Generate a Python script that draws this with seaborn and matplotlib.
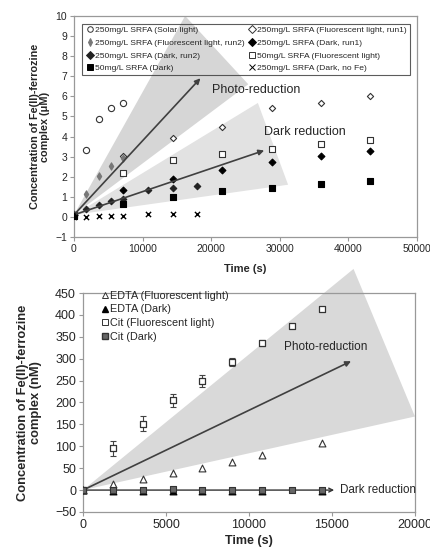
import pandas as pd
import matplotlib.pyplot as plt
import seaborn as sns
from matplotlib.lines import Line2D
from matplotlib.patches import Polygon

# ---- top panel data (time in s, concentration in uM) ----
t_solar = [0, 1800, 3600, 5400, 7200]
y_solar = [0.1, 3.35, 4.87, 5.42, 5.68]
t_fl1 = [0, 7200, 14400, 21600, 28800, 36000, 43200]
y_fl1 = [0.1, 3.05, 3.93, 4.48, 5.42, 5.67, 6.0]
t_fl2 = [0, 1800, 3600, 5400, 7200]
y_fl2 = [0.15, 1.12, 2.03, 2.52, 2.92]
t_dk1 = [0, 7200, 14400, 21600, 28800, 36000, 43200]
y_dk1 = [0.1, 1.35, 1.9, 2.32, 2.72, 3.02, 3.27]
t_dk2 = [0, 1800, 3600, 5400, 7200, 10800, 14400, 18000]
y_dk2 = [0.1, 0.38, 0.6, 0.78, 0.88, 1.32, 1.45, 1.55]
t_50fl = [0, 7200, 14400, 21600, 28800, 36000, 43200]
y_50fl = [0.1, 2.2, 2.85, 3.15, 3.38, 3.62, 3.84]
t_50dk = [0, 7200, 14400, 21600, 28800, 36000, 43200]
y_50dk = [0.05, 0.65, 1.0, 1.27, 1.45, 1.62, 1.78]
t_nofe = [0, 1800, 3600, 5400, 7200, 10800, 14400, 18000]
y_nofe = [0.0, 0.0, 0.02, 0.02, 0.05, 0.12, 0.12, 0.12]

# ---- bottom panel data (time in s, concentration in nM) ----
t_edta = [0, 1800, 3600, 5400, 7200, 9000, 10800, 14400]
y_edta_fl = [0, 13, 25, 38, 51, 65, 79, 107]
y_edta_dk = [0, -1, -1, -2, -1, -1, -1, -1]
t_cit = [0, 1800, 3600, 5400, 7200, 9000, 10800, 12600, 14400]
y_cit_fl = [0, 95, 152, 205, 249, 293, 336, 375, 414]
e_cit_fl = [3, 17, 18, 15, 13, 9, 6, 4, 4]
y_cit_dk = [0, 0, 1, 2, 0, 1, 1, 0, 1]

sns.set_theme(style="white")
plt.rcParams['font.family'] = ['Liberation Sans', 'DejaVu Sans']

fig = plt.figure(figsize=(4.3, 5.52), dpi=100)
ax1 = fig.add_axes([0.172, 0.5707, 0.798, 0.4004])
ax2 = fig.add_axes([0.193, 0.0725, 0.772, 0.3967])

# shaded wedges (top)
ax1.add_patch(Polygon([(0, 0.1), (16200, 10.0), (25400, 6.6)], closed=True,
                      facecolor='#d6d6d6', edgecolor='none', zorder=0))
ax1.add_patch(Polygon([(0, 0.1), (26800, 5.67), (31200, 1.6)], closed=True,
                      facecolor='#e2e2e2', edgecolor='none', zorder=0))

top_series = [
    ('250mg/L SRFA (Solar light)', t_solar, y_solar, 'o', 20, 'white', '#333333'),
    ('250mg/L SRFA (Fluorescent light, run1)', t_fl1, y_fl1, 'D', 10, 'white', '#333333'),
    ('250mg/L SRFA (Fluorescent light, run2)', t_fl2, y_fl2, 'd', 14, '#777777', '#777777'),
    ('250mg/L SRFA (Dark, run1)', t_dk1, y_dk1, 'D', 12, 'black', 'black'),
    ('250mg/L SRFA (Dark, run2)', t_dk2, y_dk2, 'D', 11, '#222222', '#222222'),
    ('50mg/L SRFA (Fluorescent light)', t_50fl, y_50fl, 's', 14, 'white', '#333333'),
    ('50mg/L SRFA (Dark)', t_50dk, y_50dk, 's', 16, 'black', 'black'),
    ('250mg/L SRFA (Dark, no Fe)', t_nofe, y_nofe, 'x', 14, 'black', 'black'),
]
handles = {}
for name, t, y, m, s, fc, ec in top_series:
    df = pd.DataFrame({'t': t, 'y': y})
    if m == 'x':
        sns.scatterplot(data=df, x='t', y='y', ax=ax1, marker=m, s=s, color=ec,
                        linewidth=1.0, zorder=3)
    else:
        sns.scatterplot(data=df, x='t', y='y', ax=ax1, marker=m, s=s, facecolor=fc,
                        edgecolor=ec, linewidth=0.8, zorder=3)
    handles[name] = Line2D([], [], linestyle='none', marker=m, markersize=4,
                           markerfacecolor=fc, markeredgecolor=ec, color=ec,
                           markeredgewidth=0.7)

# arrows and labels (top)
ax1.annotate('', xy=(18700, 7.0), xytext=(0, 0.1),
             arrowprops=dict(arrowstyle='-|>', color='#404040', lw=1.2, mutation_scale=8))
ax1.annotate('', xy=(28100, 3.35), xytext=(0, 0.1),
             arrowprops=dict(arrowstyle='-|>', color='#404040', lw=1.2, mutation_scale=8))
ax1.text(26500, 6.3, 'Photo-reduction', fontsize=9, ha='center', va='center')
ax1.text(33700, 4.2, 'Dark reduction', fontsize=9, ha='center', va='center')

order = [0, 2, 4, 6, 1, 3, 5, 7]
names = [top_series[i][0] for i in order]
leg1 = ax1.legend([handles[n] for n in names], names, ncol=2, loc='upper left',
                  bbox_to_anchor=(0.012, 0.985), fontsize=6.1, frameon=True,
                  handletextpad=0.0, columnspacing=0.25, borderpad=0.35,
                  labelspacing=0.55, handlelength=1.2)
leg1.get_frame().set_facecolor('none')
leg1.get_frame().set_edgecolor('#333333')
leg1.get_frame().set_linewidth(0.8)
leg1.get_frame().set_boxstyle('square', pad=0)

ax1.set_xlim(0, 50000)
ax1.set_ylim(-1, 10)
ax1.set_xticks(range(0, 50001, 10000))
ax1.set_yticks(range(-1, 11))
ax1.set_xlabel('Time (s)', fontsize=8, fontweight='bold', labelpad=7)
ax1.set_ylabel('Concentration of Fe(II)-ferrozine\ncomplex (μM)', fontsize=7.8,
               fontweight='bold', linespacing=1.0, labelpad=4)

# shaded wedge (bottom)
ax2.add_patch(Polygon([(0, 0), (16300, 505), (20000, 168)], closed=True,
                      facecolor='#d9d9d9', edgecolor='none', zorder=0, clip_on=False))

df_ef = pd.DataFrame({'t': t_edta, 'y': y_edta_fl})
df_ed = pd.DataFrame({'t': t_edta, 'y': y_edta_dk})
df_cf = pd.DataFrame({'t': t_cit, 'y': y_cit_fl})
df_cd = pd.DataFrame({'t': t_cit, 'y': y_cit_dk})

ax2.errorbar(t_cit, y_cit_fl, yerr=e_cit_fl, fmt='none', ecolor='#444444',
             elinewidth=0.8, capsize=2, capthick=0.8, zorder=2)

ax2.annotate('', xy=(16300, 297), xytext=(0, 0),
             arrowprops=dict(arrowstyle='-|>', color='#404040', lw=1.2, mutation_scale=8))
ax2.annotate('', xy=(15300, 0), xytext=(0, 0),
             arrowprops=dict(arrowstyle='->', color='#333333', lw=1.0, mutation_scale=7))

sns.scatterplot(data=df_ef, x='t', y='y', ax=ax2, marker='^', s=24, facecolor='white',
                edgecolor='#333333', linewidth=0.8, zorder=3)
sns.scatterplot(data=df_ed, x='t', y='y', ax=ax2, marker='^', s=24, facecolor='black',
                edgecolor='black', linewidth=0.8, zorder=3)
sns.scatterplot(data=df_cf, x='t', y='y', ax=ax2, marker='s', s=20, facecolor='white',
                edgecolor='#333333', linewidth=0.9, zorder=3)
sns.scatterplot(data=df_cd, x='t', y='y', ax=ax2, marker='s', s=20, facecolor='#666666',
                edgecolor='#333333', linewidth=0.8, zorder=4)

ax2.text(14600, 326, 'Photo-reduction', fontsize=8.5, ha='center', va='center')
ax2.text(15500, 0, 'Dark reduction', fontsize=8.4, ha='left', va='center')

h2 = [
    Line2D([], [], linestyle='none', marker='^', markersize=5, markerfacecolor='white',
           markeredgecolor='#333333', markeredgewidth=0.7),
    Line2D([], [], linestyle='none', marker='^', markersize=5, markerfacecolor='black',
           markeredgecolor='black'),
    Line2D([], [], linestyle='none', marker='s', markersize=4.5, markerfacecolor='white',
           markeredgecolor='#333333', markeredgewidth=0.7),
    Line2D([], [], linestyle='none', marker='s', markersize=4.5, markerfacecolor='#666666',
           markeredgecolor='#333333'),
]
ax2.legend(h2, ['EDTA (Fluorescent light)', 'EDTA (Dark)', 'Cit (Fluorescent light)', 'Cit (Dark)'],
           loc='upper left', bbox_to_anchor=(0.02, 1.055), fontsize=7.8, frameon=False,
           handletextpad=0.0, labelspacing=0.35, handlelength=1.0)

ax2.set_xlim(0, 20000)
ax2.set_ylim(-50, 450)
ax2.set_xticks(range(0, 20001, 5000))
ax2.set_yticks(range(-50, 451, 50))
ax2.set_xlabel('Time (s)', fontsize=9, fontweight='bold', labelpad=3)
ax2.set_ylabel('Concentration of Fe(II)-ferrozine\ncomplex (nM)', fontsize=9.3,
               fontweight='bold', linespacing=1.2, labelpad=9)

for ax, fs in [(ax1, 7.5), (ax2, 9)]:
    for sp in ax.spines.values():
        sp.set_color('#999999')
        sp.set_linewidth(0.9)
    ax.tick_params(axis='both', direction='out', length=3, width=0.8, color='#999999',
                   labelsize=fs, pad=2)
    ax.tick_params(axis='x', bottom=True)
    ax.tick_params(axis='y', left=True)

plt.savefig('out.png', dpi=100)
plt.close()
